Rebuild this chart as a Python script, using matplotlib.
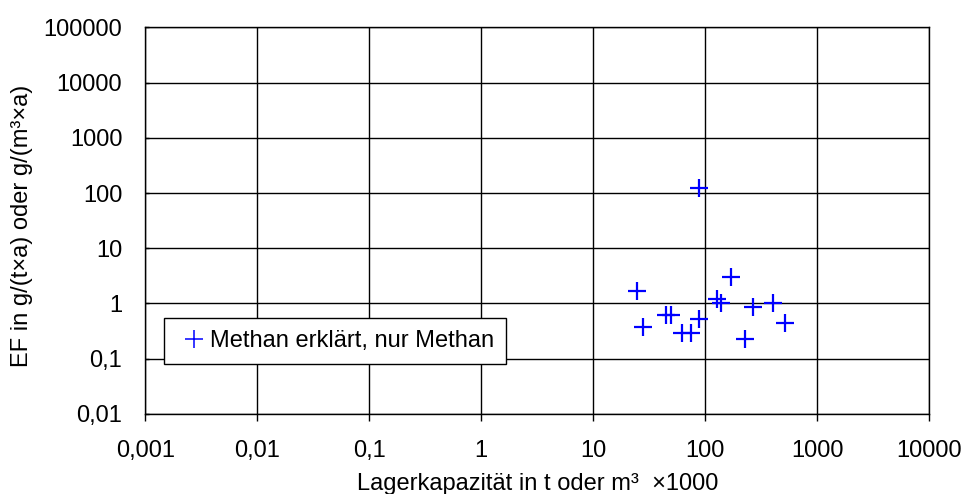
import numpy as np
import matplotlib.pyplot as plt
from matplotlib.ticker import FixedLocator, NullLocator

# Lagerkapazität (t oder m³ x1000) und Emissionsfaktor
kapazitaet = [87.7, 24.7, 27.9, 44.6, 49.0, 61.5, 74.0, 87.7,
              170, 127, 138, 267, 405, 518, 228]
ef_methan = [121, 1.69, 0.378, 0.62, 0.62, 0.29, 0.29, 0.52,
             3.07, 1.19, 1.03, 0.87, 1.0, 0.44, 0.228]

x_ticks = [0.001, 0.01, 0.1, 1, 10, 100, 1000, 10000]
x_labels = ['0,001', '0,01', '0,1', '1', '10', '100', '1000', '10000']
y_ticks = [0.01, 0.1, 1, 10, 100, 1000, 10000, 100000]
y_labels = ['0,01', '0,1', '1', '10', '100', '1000', '10000', '100000']

plt.rcParams['font.family'] = ['Liberation Sans', 'DejaVu Sans']
plt.rcParams['font.size'] = 17

fig = plt.figure(figsize=(9.66, 4.94), dpi=100)
ax = fig.add_axes([0.1504, 0.162, 0.8116, 0.7827])

ax.plot(kapazitaet, ef_methan, linestyle='none', marker='+', color='#0000ff',
        markersize=12.5, markeredgewidth=1.6, label='Methan erklärt, nur Methan')

ax.set_xscale('log')
ax.set_yscale('log')
ax.set_xlim(0.001, 10000)
ax.set_ylim(0.01, 100000)
ax.xaxis.set_major_locator(FixedLocator(x_ticks))
ax.xaxis.set_minor_locator(NullLocator())
ax.yaxis.set_major_locator(FixedLocator(y_ticks))
ax.yaxis.set_minor_locator(NullLocator())
ax.set_xticklabels(x_labels)
ax.set_yticklabels(y_labels)
ax.tick_params(axis='x', direction='out', length=5, width=1, color='black', pad=14)
ax.tick_params(axis='y', direction='in', length=3, width=1, color='black', pad=16.5)

ax.grid(True, color='black', linewidth=1)
ax.set_axisbelow(True)
for s in ax.spines.values():
    s.set_color('black')
    s.set_linewidth(1)

ax.set_xlabel('Lagerkapazität in t oder m³  ×1000', labelpad=8)
ax.set_ylabel('EF in g/(t×a) oder g/(m³×a)', labelpad=8)
ax.yaxis.label.set_y(0.486)

leg = ax.legend(loc='lower left', bbox_to_anchor=(0.0233, 0.129), frameon=True,
                fancybox=False, edgecolor='black', framealpha=1,
                borderaxespad=0, handlelength=1.58, handletextpad=-0.1,
                borderpad=0.5)
leg.get_frame().set_linewidth(1)
leg.legend_handles[0].set_markeredgewidth(1.1)

fig.savefig('out.png', dpi=100)
